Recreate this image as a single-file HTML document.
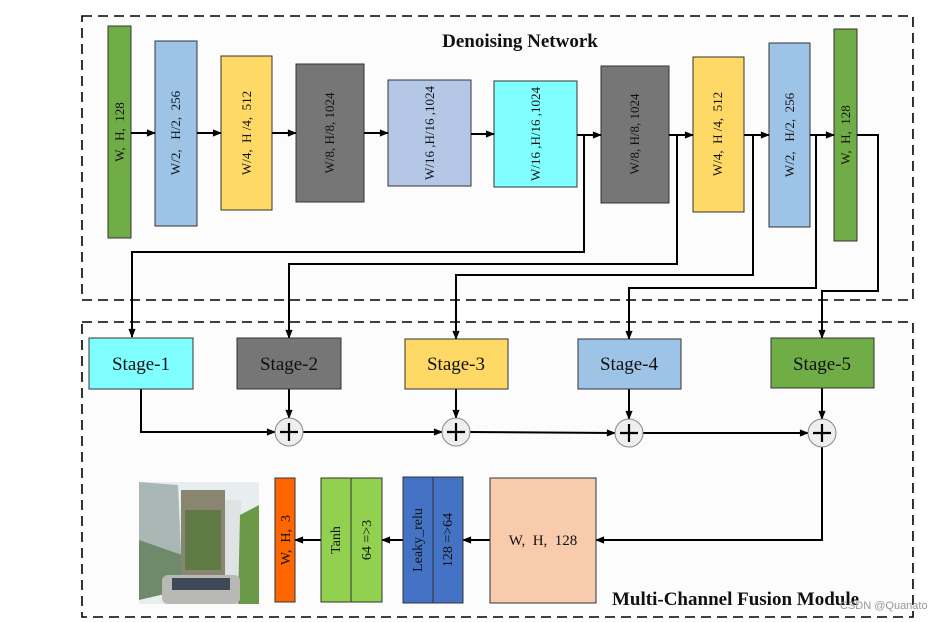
<!DOCTYPE html>
<html><head><meta charset="utf-8"><style>
html,body{margin:0;padding:0;background:#fff;width:952px;height:622px;overflow:hidden}
svg{display:block}
text{font-family:"Liberation Serif",serif;fill:#111;white-space:pre}
</style></head><body>
<svg width="952" height="622" viewBox="0 0 952 622" xmlns="http://www.w3.org/2000/svg" xml:space="preserve">
<defs>
<marker id="a" viewBox="0 0 10 10" refX="9" refY="5" markerWidth="10" markerHeight="9" markerUnits="userSpaceOnUse" orient="auto"><path d="M0,1 L10,5 L0,9 z" fill="#000"/></marker>
</defs>
<rect x="82" y="16" width="831" height="284" fill="#fcfcfc" stroke="#000" stroke-width="1.6" stroke-dasharray="10,6"/>
<rect x="82" y="322" width="831" height="295" fill="#fcfcfc" stroke="#000" stroke-width="1.6" stroke-dasharray="10,6"/>
<text x="520" y="47" font-size="19" font-weight="bold" text-anchor="middle">Denoising Network</text>
<text x="612" y="605" font-size="19" font-weight="bold">Multi-Channel Fusion Module</text>
<text x="840" y="609" font-size="11" style="font-family:'Liberation Sans',sans-serif;fill:#999">CSDN @Quanato</text>

<g stroke="#333" stroke-width="1">
<rect x="108" y="26" width="23" height="212" fill="#70ad47"/>
<rect x="155" y="41" width="42" height="185" fill="#9dc3e6"/>
<rect x="221" y="56" width="51" height="154" fill="#ffd966"/>
<rect x="296" y="64" width="68" height="138" fill="#767676"/>
<rect x="388" y="80" width="83" height="106" fill="#b4c7e7"/>
<rect x="494" y="81" width="83" height="106" fill="#7fffff"/>
<rect x="601" y="66" width="68" height="137" fill="#767676"/>
<rect x="693" y="57" width="51" height="155" fill="#ffd966"/>
<rect x="769" y="43" width="41" height="184" fill="#9dc3e6"/>
<rect x="834" y="29" width="23" height="212" fill="#70ad47"/>
</g>
<g font-size="13" text-anchor="middle">
<text transform="translate(124,132) rotate(-90)">W,  H,  128</text>
<text transform="translate(180,133) rotate(-90)">W/2,   H/2,  256</text>
<text transform="translate(251,133) rotate(-90)">W/4,  H /4,  512</text>
<text transform="translate(334,133) rotate(-90)">W/8, H/8, 1024</text>
<text transform="translate(434,133) rotate(-90)">W/16 ,H/16 ,1024</text>
<text transform="translate(540,134) rotate(-90)">W/16 ,H/16 ,1024</text>
<text transform="translate(639,134) rotate(-90)">W/8, H/8, 1024</text>
<text transform="translate(722,134) rotate(-90)">W/4,  H /4,  512</text>
<text transform="translate(794,135) rotate(-90)">W/2,   H/2,  256</text>
<text transform="translate(850,135) rotate(-90)">W,  H,  128</text>
</g>
<g stroke="#000" stroke-width="2" fill="none">
<line x1="131" y1="133" x2="155" y2="133" marker-end="url(#a)"/>
<line x1="197" y1="133" x2="221" y2="133" marker-end="url(#a)"/>
<line x1="272" y1="133" x2="296" y2="133" marker-end="url(#a)"/>
<line x1="364" y1="133" x2="388" y2="133" marker-end="url(#a)"/>
<line x1="471" y1="134" x2="494" y2="134" marker-end="url(#a)"/>
<line x1="577" y1="135" x2="601" y2="135" marker-end="url(#a)"/>
<line x1="669" y1="135" x2="693" y2="135" marker-end="url(#a)"/>
<line x1="744" y1="135" x2="769" y2="135" marker-end="url(#a)"/>
<line x1="810" y1="135" x2="834" y2="135" marker-end="url(#a)"/>
<polyline points="577,135 584,135 584,252 132,252 132,337" marker-end="url(#a)"/>
<polyline points="669,135 677,135 677,264 289,264 289,338" marker-end="url(#a)"/>
<polyline points="744,135 753,135 753,275 456,275 456,339" marker-end="url(#a)"/>
<polyline points="810,135 816,135 816,288 629,288 629,339" marker-end="url(#a)"/>
<polyline points="857,135 878,135 878,291 822,291 822,338" marker-end="url(#a)"/>
<polyline points="141,389 141,432 275,432" marker-end="url(#a)"/>
<line x1="303" y1="432" x2="442" y2="432" marker-end="url(#a)"/>
<line x1="470" y1="432" x2="615" y2="433" marker-end="url(#a)"/>
<line x1="643" y1="433" x2="808" y2="433" marker-end="url(#a)"/>
<line x1="289" y1="389" x2="289" y2="418" marker-end="url(#a)"/>
<line x1="456" y1="389" x2="456" y2="418" marker-end="url(#a)"/>
<line x1="629" y1="389" x2="629" y2="419" marker-end="url(#a)"/>
<line x1="822" y1="388" x2="822" y2="419" marker-end="url(#a)"/>
<polyline points="822,447 822,540 596,540" marker-end="url(#a)"/>
<line x1="490" y1="540" x2="463" y2="540" marker-end="url(#a)"/>
<line x1="403" y1="540" x2="382" y2="540" marker-end="url(#a)"/>
<line x1="321" y1="540" x2="295" y2="540" marker-end="url(#a)"/>
</g>
<g stroke="#888" stroke-width="1" fill="#eee">
<circle cx="289" cy="432" r="14"/><circle cx="456" cy="432" r="14"/>
<circle cx="629" cy="433" r="14"/><circle cx="822" cy="433" r="14"/>
</g>
<g stroke="#000" stroke-width="2.2">
<path d="M280,432h18M289,423v18"/><path d="M447,432h18M456,423v18"/>
<path d="M620,433h18M629,424v18"/><path d="M813,433h18M822,424v18"/>
</g>
<g stroke="#333" stroke-width="1">
<rect x="89" y="338" width="104" height="51" fill="#7fffff"/>
<rect x="237" y="338" width="104" height="51" fill="#767676"/>
<rect x="405" y="339" width="103" height="50" fill="#ffd966"/>
<rect x="578" y="339" width="103" height="50" fill="#9dc3e6"/>
<rect x="771" y="338" width="103" height="50" fill="#70ad47"/>
</g>
<g font-size="19" text-anchor="middle">
<text x="141" y="370">Stage-1</text><text x="289" y="370">Stage-2</text>
<text x="456" y="370">Stage-3</text><text x="629" y="370">Stage-4</text>
<text x="822" y="370">Stage-5</text>
</g>
<g stroke="#333" stroke-width="1">
<rect x="490" y="478" width="106" height="125" fill="#f8cbad"/>
<rect x="403" y="477" width="30" height="126" fill="#4472c4"/>
<rect x="433" y="477" width="30" height="126" fill="#4472c4"/>
<rect x="321" y="478" width="30" height="124" fill="#92d050"/>
<rect x="351" y="478" width="31" height="124" fill="#92d050"/>
<rect x="275" y="478" width="20" height="124" fill="#ff6600"/>
</g>
<text x="543" y="545" font-size="15" text-anchor="middle">W,  H,  128</text>
<g font-size="14" text-anchor="middle">
<text transform="translate(422,540) rotate(-90)">Leaky_relu</text>
<text transform="translate(452,540) rotate(-90)">128 =&gt;64</text>
<text transform="translate(340,540) rotate(-90)">Tanh</text>
<text transform="translate(371,540) rotate(-90)">64 =&gt;3</text>
<text transform="translate(290,540) rotate(-90)">W,  H,  3</text>
</g>
<g>
<rect x="139" y="482" width="120" height="122" fill="#e8eef0"/>
<polygon points="139,482 178,485 182,575 139,585" fill="#a9b8b4"/>
<polygon points="139,540 182,555 182,590 139,600" fill="#6f8a6a"/>
<rect x="181" y="490" width="44" height="90" fill="#8a8570"/>
<rect x="185" y="510" width="36" height="60" fill="#5f7a45"/>
<rect x="225" y="500" width="16" height="85" fill="#dfe3e4"/>
<polygon points="240,515 259,505 259,604 238,604" fill="#6a9a48"/>
<rect x="162" y="575" width="78" height="29" rx="6" fill="#b8b8b4"/>
<rect x="172" y="578" width="58" height="12" fill="#3e4a58"/>
</g>
</svg>
</body></html>
